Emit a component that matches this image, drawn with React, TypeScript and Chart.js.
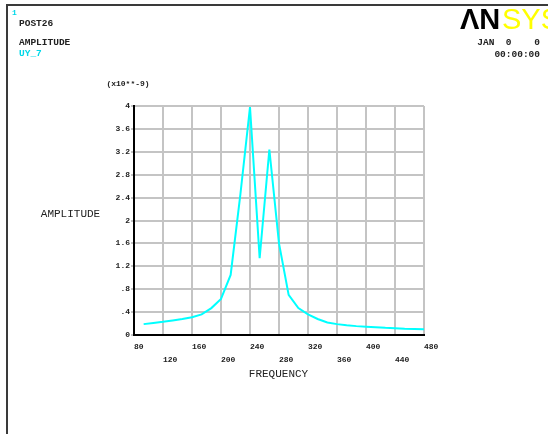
import React, { useEffect, useRef } from 'react';
import { Chart, registerables } from 'chart.js';

Chart.register(...registerables);

// Frequency (Hz) of each substep
const frequencies = [
  93.3, 106.7, 120, 133.3, 146.7, 160, 173.3, 186.7, 200, 213.3,
  226.7, 240, 253.3, 266.7, 280, 293.3, 306.7, 320, 333.3, 346.7,
  360, 373.3, 386.7, 400, 413.3, 426.7, 440, 453.3, 466.7, 480,
];
// Amplitude UY_7 in units of 1e-9
const amplitudes = [
  0.19, 0.21, 0.23, 0.255, 0.28, 0.31, 0.36, 0.47, 0.63, 1.05,
  2.45, 3.98, 1.34, 3.24, 1.6, 0.7, 0.47, 0.36, 0.28, 0.22,
  0.19, 0.17, 0.155, 0.145, 0.135, 0.125, 0.12, 0.11, 0.105, 0.1,
];

const xMin = 80;
const xMax = 480;
const xStep = 40;
const yMin = 0;
const yMax = 4;
const yStep = 0.4;

const windowNumber = '1';
const headerLines = ['POST26', 'AMPLITUDE'];
const curveName = 'UY_7';
const dateLine = 'JAN  0    0';
const timeLine = '00:00:00';
const yScaleNote = '(x10**-9)';
const yTitle = 'AMPLITUDE';
const xTitle = 'FREQUENCY';

const MONO = '"Liberation Mono", "DejaVu Sans Mono", monospace';

const annotate = {
  id: 'annotate',
  beforeDraw(chart: any) {
    const ctx = chart.ctx as CanvasRenderingContext2D;
    ctx.save();
    ctx.fillStyle = '#ffffff';
    ctx.fillRect(0, 0, chart.width, chart.height);
    ctx.fillStyle = '#3a3a3a';
    ctx.fillRect(6, 4, chart.width - 6, 2);
    ctx.fillRect(6, 4, 2, chart.height - 4);
    ctx.restore();
  },
  afterDraw(chart: any) {
    const ctx = chart.ctx as CanvasRenderingContext2D;
    ctx.save();
    ctx.textBaseline = 'middle';

    // window number
    ctx.fillStyle = '#00d8e8';
    ctx.font = `bold 8px ${MONO}`;
    ctx.textAlign = 'left';
    ctx.fillText(windowNumber, 12, 13);

    // header
    ctx.fillStyle = '#222';
    ctx.font = `bold 9.5px ${MONO}`;
    ctx.fillText(headerLines[0], 19, 24);
    ctx.fillText(headerLines[1], 19, 42.5);
    ctx.fillStyle = '#00d8e8';
    ctx.fillText(curveName, 19, 54);

    // date/time
    ctx.fillStyle = '#222';
    ctx.textAlign = 'right';
    ctx.fillText(dateLine, 540, 43);
    ctx.fillText(timeLine, 540, 54.5);

    // logo
    ctx.textBaseline = 'alphabetic';
    ctx.textAlign = 'left';
    ctx.fillStyle = '#000';
    ctx.font = 'bold 29px "Liberation Sans", Arial, sans-serif';
    ctx.fillText('\u039BN', 460, 28.5);
    ctx.fillStyle = '#ffff00';
    ctx.font = '29px "Liberation Sans", Arial, sans-serif';
    ctx.fillText('SYS', 502, 28.5);

    // axis notes / titles
    ctx.textBaseline = 'middle';
    ctx.fillStyle = '#222';
    ctx.font = `bold 8px ${MONO}`;
    ctx.textAlign = 'center';
    ctx.fillText(yScaleNote, 128, 84);

    ctx.font = `11px ${MONO}`;
    ctx.textAlign = 'center';
    ctx.fillText(yTitle, 70.5, 214);
    ctx.fillText(xTitle, 278.5, 374.5);

    ctx.restore();
  },
};

function fmtY(v: number): string {
  const r = Math.round(v * 10) / 10;
  const s = String(r);
  return s.startsWith('0.') ? s.slice(1) : s;
}

export default function App() {
  const ref = useRef<HTMLCanvasElement | null>(null);

  useEffect(() => {
    if (!ref.current) return;
    const chart = new Chart(ref.current, {
      type: 'line',
      data: {
        datasets: [
          {
            label: curveName,
            data: frequencies.map((f, i) => ({ x: f, y: amplitudes[i] })),
            borderColor: '#00ffff',
            borderWidth: 2,
            pointRadius: 0,
            tension: 0,
            fill: false,
          },
        ],
      },
      options: {
        responsive: false,
        animation: false,
        devicePixelRatio: 1,
        layout: { padding: { left: 0, right: 124, top: 106, bottom: 0 } },
        plugins: { legend: { display: false }, tooltip: { enabled: false } },
        scales: {
          x: {
            type: 'linear',
            min: xMin,
            max: xMax,
            ticks: {
              stepSize: xStep,
              autoSkip: false,
              maxRotation: 0,
              align: 'start',
              color: '#222',
              padding: 6,
              font: { family: MONO, size: 8, weight: 'bold', lineHeight: 1.6 },
              callback: (v: any, i: number) =>
                i % 2 === 0 ? [String(v), ''] : ['', String(v)],
            },
            grid: { color: '#c4c4c4', lineWidth: 2, drawTicks: false },
            border: { color: '#000', width: 2 },
            afterFit: (s: any) => {
              s.height = 99;
            },
          },
          y: {
            type: 'linear',
            min: yMin,
            max: yMax,
            ticks: {
              stepSize: yStep,
              color: '#222',
              padding: 1,
              font: { family: MONO, size: 8, weight: 'bold' },
              callback: (v: any) => fmtY(Number(v)),
            },
            grid: { color: '#c4c4c4', lineWidth: 2, tickLength: 3 },
            border: { color: '#000', width: 2 },
            afterFit: (s: any) => {
              s.width = 134;
            },
          },
        },
      },
      plugins: [annotate],
    } as any);
    return () => chart.destroy();
  }, []);

  return (
    <div style={{ position: 'fixed', left: 0, top: 0, width: 548, height: 434, background: '#fff' }}>
      <canvas ref={ref} width={548} height={434} style={{ display: 'block' }} />
    </div>
  );
}
